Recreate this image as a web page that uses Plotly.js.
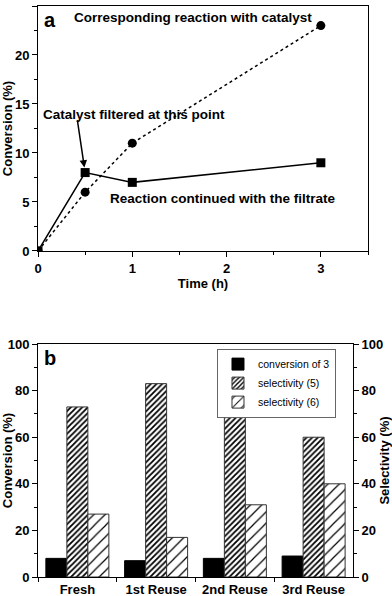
<!DOCTYPE html>
<html>
<head>
<meta charset="utf-8">
<script src="https://cdn.plot.ly/plotly-3.0.1.min.js"></script>
<style>
  html, body { margin: 0; padding: 0; background: #fff; }
  #fig { width: 392px; height: 596px; }
</style>
</head>
<body>
<div id="fig"></div>
<script>
// panel a: hot filtration test
const timeH = [0, 0.5, 1, 3];
const convFiltrate = [0, 8, 7, 9];
const convCatalyst = [0, 6, 11, 23];

// panel b: recycling
const runs = ['Fresh', '1st Reuse', '2nd Reuse', '3rd Reuse'];
const conversion3 = [8, 7, 8, 9];
const selectivity5 = [73, 83, 69, 60];
const selectivity6 = [27, 17, 31, 40];

const FONT = 'Arial, "Liberation Sans", sans-serif';
const boldFont = { family: FONT, size: 13, color: '#000', weight: 'bold' };
const noteFont = { family: FONT, size: 13.5, color: '#000', weight: 'bold' };

const traces = [
  {
    x: timeH, y: convFiltrate, type: 'scatter', mode: 'lines+markers',
    line: { color: '#000', width: 1.5 },
    marker: { symbol: 'square', size: 9, color: '#000' },
    xaxis: 'x', yaxis: 'y', showlegend: false
  },
  {
    x: timeH, y: convCatalyst, type: 'scatter', mode: 'lines+markers',
    line: { color: '#000', width: 1.5, dash: 'dot' },
    marker: { symbol: 'circle', size: 9, color: '#000' },
    xaxis: 'x', yaxis: 'y', showlegend: false
  },
  {
    x: runs, y: conversion3, type: 'bar', name: 'conversion of 3',
    marker: { color: '#000', line: { color: '#000', width: 1 } },
    xaxis: 'x2', yaxis: 'y2'
  },
  {
    x: runs, y: selectivity5, type: 'bar', name: 'selectivity (5)',
    marker: {
      color: '#fff',
      line: { color: '#333', width: 1 },
      pattern: { shape: '/', size: 4, solidity: 0.45, fgcolor: '#000', bgcolor: '#fff' }
    },
    xaxis: 'x2', yaxis: 'y2'
  },
  {
    x: runs, y: selectivity6, type: 'bar', name: 'selectivity (6)',
    marker: {
      color: '#fff',
      line: { color: '#333', width: 1 },
      pattern: { shape: '/', size: 8, solidity: 0.15, fgcolor: '#000', bgcolor: '#fff' }
    },
    xaxis: 'x2', yaxis: 'y2'
  },
  // keeps the right-hand selectivity axis drawn; draws nothing itself
  {
    x: runs, y: selectivity5, type: 'scatter', mode: 'none',
    xaxis: 'x2', yaxis: 'y3', showlegend: false, hoverinfo: 'skip'
  }
];

const layout = {
  width: 392,
  height: 596,
  margin: { l: 38, r: 24, t: 6, b: 19 },
  paper_bgcolor: '#fff',
  plot_bgcolor: '#fff',
  font: { family: FONT, color: '#000' },
  barmode: 'group',
  bargap: 0.2,
  bargroupgap: 0,
  xaxis: {
    domain: [0, 1],
    anchor: 'y',
    range: [0, 3.5],
    tickvals: [0, 1, 2, 3],
    ticks: 'outside', ticklen: 5, tickwidth: 1, tickcolor: '#000',
    minor: { dtick: 0.5, ticks: 'outside', ticklen: 3, tickcolor: '#000' },
    showline: true, linecolor: '#000', linewidth: 1, mirror: true,
    showgrid: false, zeroline: false,
    tickfont: boldFont,
    title: { text: 'Time (h)', font: boldFont, standoff: 4 }
  },
  yaxis: {
    domain: [0.571, 1],
    anchor: 'x',
    range: [0, 25],
    dtick: 5,
    ticks: 'outside', ticklen: 5, tickwidth: 1, tickcolor: '#000',
    minor: { dtick: 2.5, ticks: 'outside', ticklen: 3, tickcolor: '#000' },
    showline: true, linecolor: '#000', linewidth: 1, mirror: true,
    showgrid: false, zeroline: false,
    tickfont: boldFont,
    title: { text: 'Conversion (%)', font: boldFont, standoff: 2 }
  },
  xaxis2: {
    domain: [0, 0.9545],
    anchor: 'y2',
    type: 'category',
    tickson: 'boundaries',
    ticks: 'outside', ticklen: 4, tickcolor: '#000',
    showline: true, linecolor: '#000', linewidth: 1, mirror: true,
    showgrid: false, zeroline: false,
    tickfont: boldFont
  },
  yaxis2: {
    domain: [0, 0.408],
    anchor: 'x2',
    range: [0, 100],
    dtick: 20,
    ticks: 'outside', ticklen: 5, tickwidth: 1, tickcolor: '#000',
    minor: { dtick: 10, ticks: 'outside', ticklen: 3, tickcolor: '#000' },
    showline: true, linecolor: '#000', linewidth: 1,
    showgrid: false, zeroline: false,
    tickfont: boldFont,
    title: { text: 'Conversion (%)', font: boldFont, standoff: 2 }
  },
  yaxis3: {
    overlaying: 'y2',
    anchor: 'x2',
    side: 'right',
    range: [0, 100],
    dtick: 20,
    ticks: 'outside', ticklen: 5, tickwidth: 1, tickcolor: '#000',
    minor: { dtick: 10, ticks: 'outside', ticklen: 3, tickcolor: '#000' },
    showline: true, linecolor: '#000', linewidth: 1,
    showgrid: false, zeroline: false,
    tickfont: boldFont,
    title: { text: 'Selectivity (%)', font: boldFont, standoff: 2 }
  },
  legend: {
    x: 0.903, y: 0.4, xanchor: 'right', yanchor: 'top',
    bgcolor: '#fff', bordercolor: '#666', borderwidth: 1,
    font: { family: FONT, size: 10.5, color: '#000' },
    tracegroupgap: 0, itemwidth: 30
  },
  annotations: [
    { text: 'a', xref: 'paper', yref: 'paper', x: 0.012, y: 0.976, xanchor: 'left', yanchor: 'middle',
      showarrow: false, font: { family: FONT, size: 20, weight: 'bold' } },
    { text: 'Corresponding reaction with catalyst', xref: 'x', yref: 'y', x: 1.64, y: 23.8,
      showarrow: false, font: noteFont },
    { text: 'Catalyst filtered at this point', xref: 'x', yref: 'y', x: 1.02, y: 13.9,
      showarrow: false, font: noteFont },
    { text: 'Reaction continued with the filtrate', xref: 'x', yref: 'y', x: 1.96, y: 5.4,
      showarrow: false, font: noteFont },
    // arrow to the filtration point
    { text: '', xref: 'x', yref: 'y', x: timeH[1], y: convFiltrate[1], ax: -8, ay: -54,
      showarrow: true, arrowhead: 2, arrowsize: 1, arrowwidth: 1.5, arrowcolor: '#000', standoff: 5 },
    { text: 'b', xref: 'paper', yref: 'paper', x: 0.012, y: 0.383, xanchor: 'left', yanchor: 'middle',
      showarrow: false, font: { family: FONT, size: 20, weight: 'bold' } }
  ]
};

Plotly.newPlot('fig', traces, layout, { displayModeBar: false, staticPlot: true });
</script>
</body>
</html>
